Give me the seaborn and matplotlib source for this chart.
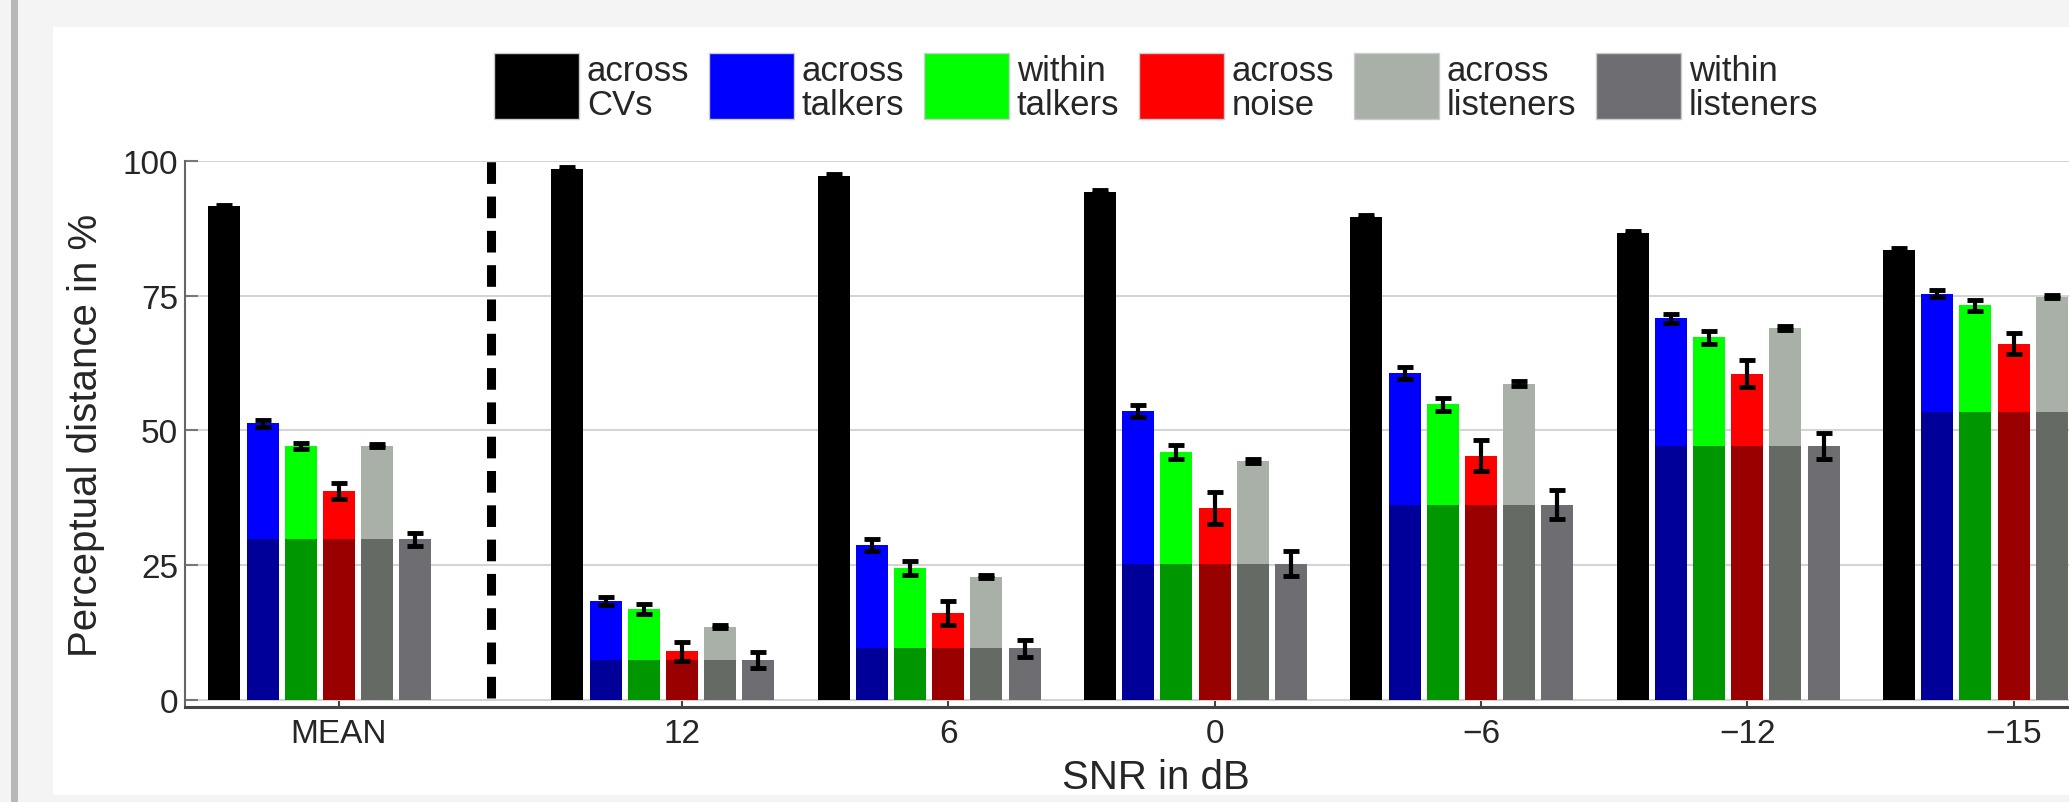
import pandas as pd
import matplotlib.pyplot as plt
import seaborn as sns
from matplotlib.patches import Patch, Rectangle
from matplotlib.legend_handler import HandlerPatch

# Perceptual distance (%) per condition
groups = ['MEAN', '12', '6', '0', '\u22126', '\u221212', '\u221215']
measures = ['across\nCVs', 'across\ntalkers', 'within\ntalkers',
            'across\nnoise', 'across\nlisteners', 'within\nlisteners']

across_cvs = [91.6, 98.6, 97.2, 94.3, 89.7, 86.7, 83.5]
across_talkers = [51.3, 18.4, 28.8, 53.6, 60.6, 70.8, 75.4]
within_talkers = [47.1, 16.9, 24.4, 46.0, 54.9, 67.3, 73.2]
across_noise = [38.8, 9.0, 16.2, 35.6, 45.3, 60.5, 66.1]
across_listeners = [47.2, 13.6, 22.9, 44.4, 58.7, 69.0, 74.8]
within_listeners = [29.8, 7.4, 9.6, 25.3, 36.2, 47.2, 53.5]

err_cvs = [0.3, 0.3, 0.3, 0.3, 0.3, 0.3, 0.3]
err_across_talkers = [0.7, 0.8, 1.1, 1.1, 1.1, 0.9, 0.7]
err_within_talkers = [0.6, 0.9, 1.3, 1.3, 1.2, 1.2, 1.0]
err_noise = [1.5, 1.8, 2.2, 3.0, 2.9, 2.5, 2.0]
err_across_listeners = [0.3, 0.3, 0.3, 0.4, 0.4, 0.3, 0.3]
err_within_listeners = [1.2, 1.5, 1.6, 2.3, 2.7, 2.4, 2.4]

values = [across_cvs, across_talkers, within_talkers,
          across_noise, across_listeners, within_listeners]
errors = [err_cvs, err_across_talkers, err_within_talkers,
          err_noise, err_across_listeners, err_within_listeners]

light = ['#000000', '#0000ff', '#00ff00', '#ff0000', '#a9b0a8', '#6e6d72']
dark = ['#000000', '#000099', '#009600', '#990000', '#666a64', '#6e6d72']

# layout: MEAN group set apart from the SNR groups
step = 0.1434
group_pos = [0.0] + [1.288 + k for k in range(len(groups) - 1)]

rows = []
for g, gp in enumerate(group_pos):
    for m in range(len(measures)):
        rows.append({'x': gp + (m - 3) * step, 'measure': measures[m],
                     'value': values[m][g], 'err': errors[m][g]})
df = pd.DataFrame(rows)

# darker lower part of the coloured bars = within-listeners level
dark_rows = []
for g, gp in enumerate(group_pos):
    for m in range(1, 5):
        dark_rows.append({'x': gp + (m - 3) * step, 'measure': measures[m],
                          'value': within_listeners[g]})
df_dark = pd.DataFrame(dark_rows)

sns.set_theme(style='whitegrid')
plt.rcParams['font.family'] = ['Liberation Sans', 'DejaVu Sans']

fig = plt.figure(figsize=(20.69, 8.03), dpi=100)
fig.patch.set_facecolor('#f4f4f4')
W, H = 2069, 803
fig.patches.append(Rectangle((53 / W, 1 - 796 / H), 1, (796 - 28) / H,
                             transform=fig.transFigure, facecolor='white',
                             edgecolor='none', zorder=-5))
fig.patches.append(Rectangle((11 / W, 0), 7 / W, 1, transform=fig.transFigure,
                             facecolor='#b8b8b8', edgecolor='none', zorder=-5))

ax = fig.add_axes([185 / W, 1 - 708 / H, (2127 - 185) / W, (708 - 162) / H])
ax.set_facecolor('white')

sns.barplot(data=df, x='x', y='value', hue='measure', hue_order=measures,
            palette=dict(zip(measures, light)), native_scale=True, dodge=False,
            width=0.837, errorbar=None, saturation=1, linewidth=0,
            legend=False, ax=ax)
sns.barplot(data=df_dark, x='x', y='value', hue='measure', hue_order=measures[1:5],
            palette=dict(zip(measures[1:5], dark[1:5])), native_scale=True,
            dodge=False, width=0.837, errorbar=None, saturation=1, linewidth=0,
            legend=False, ax=ax)

ax.errorbar(df['x'], df['value'], yerr=df['err'], fmt='none', ecolor='black',
            elinewidth=3, capsize=6, capthick=3.5, zorder=5)

# dashed separator between MEAN and the SNR conditions
sep = 0.571
ax.plot([sep, sep], [0.3, 100], color='black', lw=6.5, dashes=(2.4, 1.4),
        zorder=4)

ax.set_xlim(-0.578, 6.714)
ax.set_ylim(-1.3, 100)
ax.set_xticks(group_pos)
ax.set_xticklabels(groups)
ax.set_yticks([0, 25, 50, 75, 100])
ax.set_yticklabels(['0', '25', '50', '75', '100'])

ax.grid(axis='y', color='#d4d4d4', linewidth=1.5)
ax.grid(axis='x', visible=False)
ax.set_axisbelow(True)
for s in ['top', 'right']:
    ax.spines[s].set_visible(False)
ax.spines['left'].set_color('#666666')
ax.spines['left'].set_linewidth(1.5)
ax.spines['bottom'].set_color('#444444')
ax.spines['bottom'].set_linewidth(2.2)

ax.tick_params(axis='y', direction='in', length=9, width=1.5, color='#777777',
               labelsize=24, pad=5, left=True)
ax.tick_params(axis='x', direction='in', length=4, width=1.5, color='#444444',
               labelsize=24, pad=8, bottom=True)

ax.set_xlabel('SNR in dB', fontsize=29)
ax.set_ylabel('Perceptual distance in %', fontsize=29)
ax.xaxis.set_label_coords(0.5, -0.093)
ax.yaxis.set_label_coords(-0.0412, 0.5)


def legend_box(legend, orig_handle, xdescent, ydescent, width, height, fontsize):
    # colour square lifted a little so it spans both text lines
    return Rectangle((-xdescent, -ydescent + 3), width, height)


handles = [Patch(facecolor=c, edgecolor='#cccccc', linewidth=1) for c in light]
leg = ax.legend(handles, measures, loc='lower center', bbox_to_anchor=(0.5, 1.0),
                ncol=6, frameon=False, fontsize=25, handlelength=2.46,
                handleheight=2.55, handletextpad=0.23, columnspacing=0.55,
                borderaxespad=0.7,
                handler_map={Patch: HandlerPatch(patch_func=legend_box)})
for t in leg.get_texts():
    t.set_linespacing(1.05)

fig.savefig('out.png', dpi=100, facecolor=fig.get_facecolor())
